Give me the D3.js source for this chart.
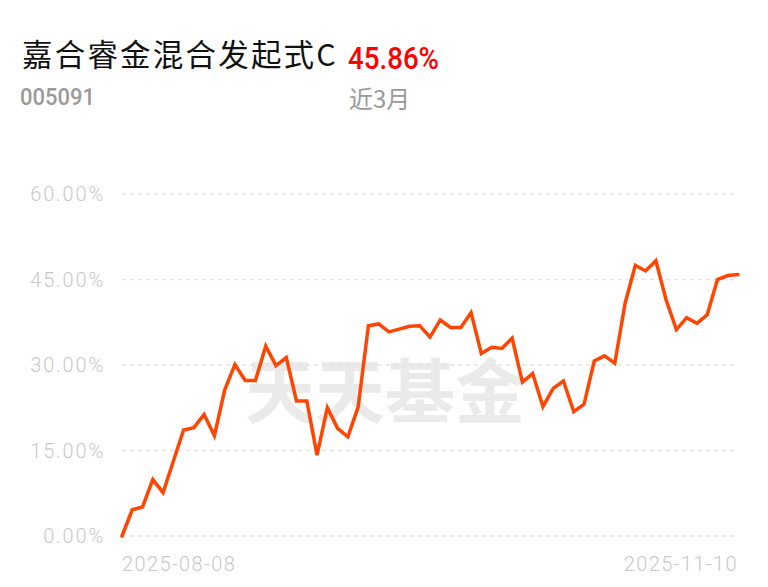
<!DOCTYPE html>
<html>
<head>
<meta charset="utf-8">
<script src="https://cdn.jsdelivr.net/npm/d3@7"></script>
<style>
  body { margin: 0; background: #fff; }
  svg { display: block; }
</style>
</head>
<body>
<div id="chart"></div>
<script>
// fund info
var fundName = "嘉合睿金混合发起式C";
var fundCode = "005091";
var periodLabel = "近3月";
var totalReturn = "45.86%";

// cumulative return (%) per trading day, 2025-08-08 .. 2025-11-10
var returns = [
  0, 4.6, 5.1, 9.9, 7.6, 13.1, 18.6, 19.0, 21.3, 17.6,
  25.6, 30.1, 27.3, 27.3, 33.3, 29.9, 31.3, 23.7, 23.7, 14.2,
  22.5, 18.9, 17.4, 22.6, 36.9, 37.2, 35.8, 36.3, 36.8, 36.9,
  34.9, 37.9, 36.6, 36.6, 39.2, 32.0, 33.1, 32.9, 34.7, 27.0,
  28.5, 22.7, 25.9, 27.2, 21.8, 23.1, 30.7, 31.6, 30.3, 40.8,
  47.5, 46.5, 48.3, 41.4, 36.2, 38.3, 37.3, 38.8, 45.0, 45.7,
  45.86
];
var yTicks = [0, 15, 30, 45, 60];
var dateLabels = ["2025-08-08", "2025-11-10"];

var width = 768, height = 587;
var svg = d3.select("#chart").append("svg")
    .attr("width", width)
    .attr("height", height);

var x = d3.scaleLinear().domain([0, returns.length - 1]).range([122, 738]);
var y = d3.scaleLinear().domain([0, 60]).range([536, 194]);

var cjk = "'Noto Sans CJK SC', 'Roboto', sans-serif";
var latin = "'Roboto', 'Noto Sans CJK SC', sans-serif";

// header
svg.append("text")
    .attr("x", 22).attr("y", 66)
    .attr("font-family", cjk)
    .attr("font-size", 30.5)
    .attr("letter-spacing", 2.2)
    .attr("fill", "#111")
    .text(fundName);

svg.append("text")
    .attr("x", 348).attr("y", 69)
    .attr("font-family", latin)
    .attr("font-size", 31)
    .attr("font-weight", 500)
    .attr("fill", "#ff0000")
    .attr("textLength", 91)
    .attr("lengthAdjust", "spacingAndGlyphs")
    .text(totalReturn);

svg.append("text")
    .attr("x", 20).attr("y", 105)
    .attr("font-family", latin)
    .attr("font-size", 24)
    .attr("font-weight", 500)
    .attr("fill", "#9a9a9a")
    .attr("textLength", 75)
    .attr("lengthAdjust", "spacingAndGlyphs")
    .text(fundCode);

svg.append("text")
    .attr("x", 349).attr("y", 108)
    .attr("font-family", cjk)
    .attr("font-size", 24)
    .attr("fill", "#9a9a9a")
    .text(periodLabel);

// watermark
svg.append("text")
    .attr("x", 385).attr("y", 418)
    .attr("text-anchor", "middle")
    .attr("font-family", cjk)
    .attr("font-size", 70)
    .attr("font-weight", 700)
    .attr("fill", "#eaeaea")
    .text("天天基金");

// grid
svg.append("g").selectAll("line")
    .data(yTicks)
    .enter().append("line")
    .attr("x1", 122).attr("x2", 738)
    .attr("y1", function(d) { return y(d); })
    .attr("y2", function(d) { return y(d); })
    .attr("stroke", "#e4e4e4")
    .attr("stroke-width", 1.5)
    .attr("stroke-dasharray", "4,4");

// y labels
svg.append("g").selectAll("text")
    .data(yTicks)
    .enter().append("text")
    .attr("x", 105)
    .attr("y", function(d) { return y(d); })
    .attr("dy", "0.35em")
    .attr("text-anchor", "end")
    .attr("font-family", latin)
    .attr("font-size", 20)
    .attr("font-weight", 300)
    .attr("letter-spacing", 1.8)
    .attr("fill", "#c8c8c8")
    .text(function(d) { return d.toFixed(2) + "%"; });

// x labels (first and last day)
svg.append("text")
    .attr("x", x(0)).attr("y", 571)
    .attr("font-family", latin)
    .attr("font-size", 20)
    .attr("font-weight", 300)
    .attr("letter-spacing", 1.4)
    .attr("fill", "#c8c8c8")
    .text(dateLabels[0]);

svg.append("text")
    .attr("x", x(returns.length - 1)).attr("y", 571)
    .attr("text-anchor", "end")
    .attr("font-family", latin)
    .attr("font-size", 20)
    .attr("font-weight", 300)
    .attr("letter-spacing", 1.4)
    .attr("fill", "#c8c8c8")
    .text(dateLabels[1]);

// line
var line = d3.line()
    .x(function(d, i) { return x(i); })
    .y(function(d) { return y(d); });

svg.append("path")
    .datum(returns)
    .attr("d", line)
    .attr("fill", "none")
    .attr("stroke", "#ff4500")
    .attr("stroke-width", 3.5)
    .attr("stroke-linejoin", "miter")
    .attr("stroke-linecap", "round");
</script>
</body>
</html>
